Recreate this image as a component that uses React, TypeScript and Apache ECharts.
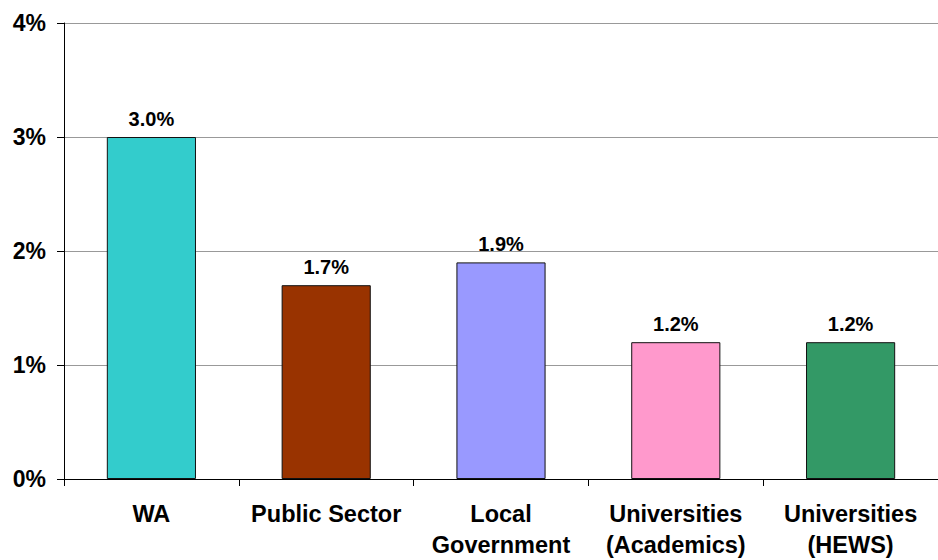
import React, { useEffect, useRef } from "react";
import * as echarts from "echarts";

const categories = ["WA", "Public Sector", "Local\nGovernment", "Universities\n(Academics)", "Universities\n(HEWS)"];
const values = [3.0, 1.7, 1.9, 1.2, 1.2];
const colors = ["#33CCCC", "#993300", "#9999FF", "#FF99CC", "#339966"];
const yTicks = { min: 0, max: 4, interval: 1 };

export default function App() {
  const ref = useRef<HTMLDivElement>(null);
  useEffect(() => {
    const chart = echarts.init(ref.current!, undefined, { renderer: "svg" });
    const font = "'Liberation Sans', Arial, sans-serif";
    chart.setOption({
      animation: false,
      backgroundColor: "#ffffff",
      grid: { left: 64, top: 23, bottom: 77.5, width: 885 },
      xAxis: {
        type: "category",
        data: categories,
        axisLine: { show: true, lineStyle: { color: "#000", width: 1 } },
        axisTick: { show: true, length: 7, lineStyle: { color: "#000" } },
        axisLabel: {
          interval: 0,
          margin: 19,
          color: "#000",
          fontFamily: font,
          fontWeight: "bold",
          fontSize: 23.5,
          lineHeight: 31,
        },
      },
      yAxis: {
        type: "value",
        min: yTicks.min,
        max: yTicks.max,
        interval: yTicks.interval,
        axisLine: { show: true, lineStyle: { color: "#000", width: 1 } },
        axisTick: { show: true, length: 7, lineStyle: { color: "#000" } },
        splitLine: { show: true, lineStyle: { color: "#999", width: 1 } },
        axisLabel: {
          margin: 18,
          color: "#000",
          fontFamily: font,
          fontWeight: "bold",
          fontSize: 23,
          formatter: "{value}%",
        },
      },
      series: [
        {
          type: "bar",
          data: values.map((v, i) => ({ value: v, itemStyle: { color: colors[i] } })),
          barCategoryGap: "49%",
          itemStyle: { borderColor: "#111", borderWidth: 1 },
          label: {
            show: true,
            position: "top",
            distance: 8,
            color: "#000",
            fontFamily: font,
            fontWeight: "bold",
            fontSize: 20,
            formatter: (p: any) => p.value.toFixed(1) + "%",
          },
        },
      ],
    });
    return () => chart.dispose();
  }, []);
  return (
    <div
      ref={ref}
      style={{ position: "absolute", left: 0, top: 0, width: 938, height: 560 }}
    />
  );
}
